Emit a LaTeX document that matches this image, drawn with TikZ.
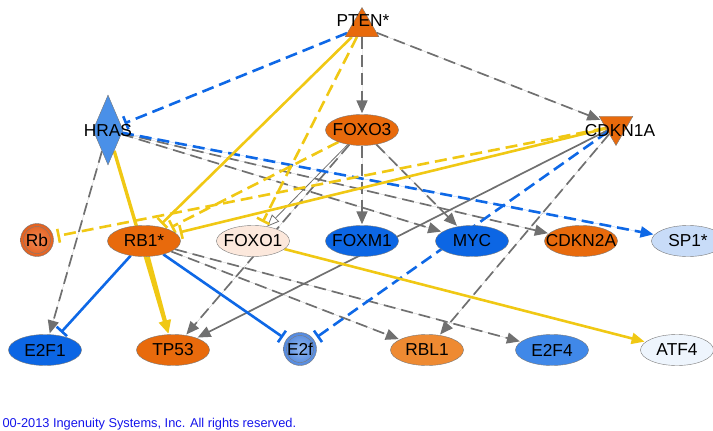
\documentclass[tikz,border=0pt]{standalone}
\usepackage{fontspec}
\setmainfont{Liberation Sans}
\usetikzlibrary{arrows.meta,shapes.geometric,backgrounds}

\definecolor{ipaorange}{RGB}{232,106,12}
\definecolor{ipalightorange}{RGB}{238,138,50}
\definecolor{ipablue}{RGB}{12,102,228}
\definecolor{ipamidblue}{RGB}{64,136,232}
\definecolor{ipahras}{RGB}{74,144,232}
\definecolor{ipasp}{RGB}{200,220,248}
\definecolor{ipaatf}{RGB}{238,245,253}
\definecolor{ipafoxo}{RGB}{252,232,220}
\definecolor{nodeline}{RGB}{120,120,120}
\definecolor{edgegray}{RGB}{112,112,112}
\definecolor{edgeblue}{RGB}{14,104,230}
\definecolor{edgeyellow}{RGB}{240,200,20}
\definecolor{copyblue}{RGB}{20,20,235}

\begin{document}
\begin{tikzpicture}[x=1pt, y=-1pt, font=\fontsize{17.3}{19}\selectfont,
    gene/.style={ellipse, draw=nodeline, minimum width=73pt, minimum height=31pt, inner xsep=-10pt, inner ysep=0pt},
    cplx/.style={circle, draw=nodeline, minimum size=33pt, inner sep=0pt},
    act/.style={-{Triangle[length=13pt,width=11pt]}, shorten >=1pt},
    inh/.style={-{Bar[width=14pt]}, shorten >=4pt},
    gr/.style={draw=edgegray, line width=1.7pt},
    bl/.style={draw=edgeblue, line width=2.6pt},
    ye/.style={draw=edgeyellow, line width=2.6pt},
    dsh/.style={dash pattern=on 12pt off 6pt}]

    \useasboundingbox (0,0) rectangle (713,431);

    % shapes with separate labels
    \node[regular polygon, regular polygon sides=3, draw=nodeline, fill=ipaorange, minimum size=39pt, inner sep=0pt] (pten) at (362,27) {};
    \node[diamond, draw=nodeline, fill=ipahras, minimum width=30pt, minimum height=70pt, inner sep=0pt] (hras) at (108,130) {};
    \node[regular polygon, regular polygon sides=3, shape border rotate=180, draw=nodeline, fill=ipaorange, minimum size=39pt, inner sep=0pt] (cdkn1a) at (616,126) {};

    \node (ptenL) at (363,21) {PTEN*};
    \node (hrasL) at (108,131) {HRAS};
    \node (cdkn1aL) at (620,131) {CDKN1A};

    \foreach \n/\x/\y/\c/\t in {foxo3/362/130/ipaorange/FOXO3,
        rb1/144/241/ipaorange/RB1*, foxo1/253/241/ipafoxo/FOXO1,
        foxm1/362/241/ipablue/FOXM1, myc/472/241/ipablue/MYC,
        cdkn2a/581/241/ipaorange/CDKN2A, sp1/688/241/ipasp/SP1*,
        e2f1/45/350/ipablue/E2F1, tp53/173/350/ipaorange/TP53,
        rbl1/427/350/ipalightorange/RBL1, e2f4/552/350/ipamidblue/E2F4,
        atf4/677/350/ipaatf/ATF4}
    {
      \node[gene, fill=\c] (\n) at (\x,\y) {\t};
    }

    \node[cplx, inner color={rgb,255:red,242;green,136;blue,84}, outer color={rgb,255:red,226;green,96;blue,30}] (rb) at (37,240) {Rb};
    \draw[nodeline] (rb) circle (13.5pt);
    \node[cplx, inner color={rgb,255:red,146;green,184;blue,240}, outer color={rgb,255:red,82;green,136;blue,222}] (e2f) at (300,349) {E2f};
    \draw[nodeline] (e2f) circle (13.5pt);

    \node[anchor=west, text=copyblue, font=\fontsize{12.8}{14}\selectfont] (copy) at (-1,424) {00-2013 Ingenuity Systems, Inc. All rights reserved.};

    \begin{scope}[on background layer]
    % gray
    \draw[gr, dsh, act, fill=edgegray] (pten) -- (foxo3);
    \draw[gr, dsh, act, fill=edgegray] (pten) -- (cdkn1a);
    \draw[gr, dsh, act, fill=edgegray] (hras) -- (e2f1);
    \draw[gr, dsh, act, fill=edgegray] (hras) -- (myc);
    \draw[gr, dsh, act, fill=edgegray] (hras) -- (cdkn2a);
    \draw[gr, dsh, act, fill=edgegray] (foxo3) -- (foxm1);
    \draw[gr, dsh, act, fill=edgegray] (foxo3) -- (myc);
    \draw[gr, dsh, act, fill=edgegray] (foxo3) -- (tp53);
    \draw[gr, dsh, act, fill=edgegray] (cdkn1a) -- (rbl1);
    \draw[gr, dsh, act, fill=edgegray] (rb1) -- (rbl1);
    \draw[gr, dsh, act, fill=edgegray] (rb1) -- (e2f4);
    \draw[gr, act, fill=edgegray] (cdkn1a) -- (tp53);
    \draw[draw=edgegray, line width=.8pt, -{Triangle[open,length=12pt,width=10pt]}] (foxo3) -- (foxo1);
    % blue
    \draw[bl, dsh, inh] (pten) -- (hras);
    \draw[bl, dsh, inh] (cdkn1a) -- (e2f);
    \draw[bl, dsh, act, fill=edgeblue] (hras) -- (sp1);
    \draw[bl, inh] (rb1) -- (e2f1);
    \draw[bl, inh] (rb1) -- (e2f);
    % yellow
    \draw[ye, inh] (pten) -- (rb1);
    \draw[ye, inh] (cdkn1a) -- (rb1);
    \draw[ye, dsh, inh] (pten) -- (foxo1);
    \draw[ye, dsh, inh] (foxo3) -- (rb1);
    \draw[ye, dsh, inh] (cdkn1a) -- (rb);
    \draw[ye, act, fill=edgeyellow] (foxo1) -- (atf4);
    \draw[ye, line width=3.4pt, act, fill=edgeyellow] (hras) -- (tp53);
    \draw[ye, line width=3.4pt, act, fill=edgeyellow] (rb1) -- (tp53);
    \end{scope}

\end{tikzpicture}
\end{document}
